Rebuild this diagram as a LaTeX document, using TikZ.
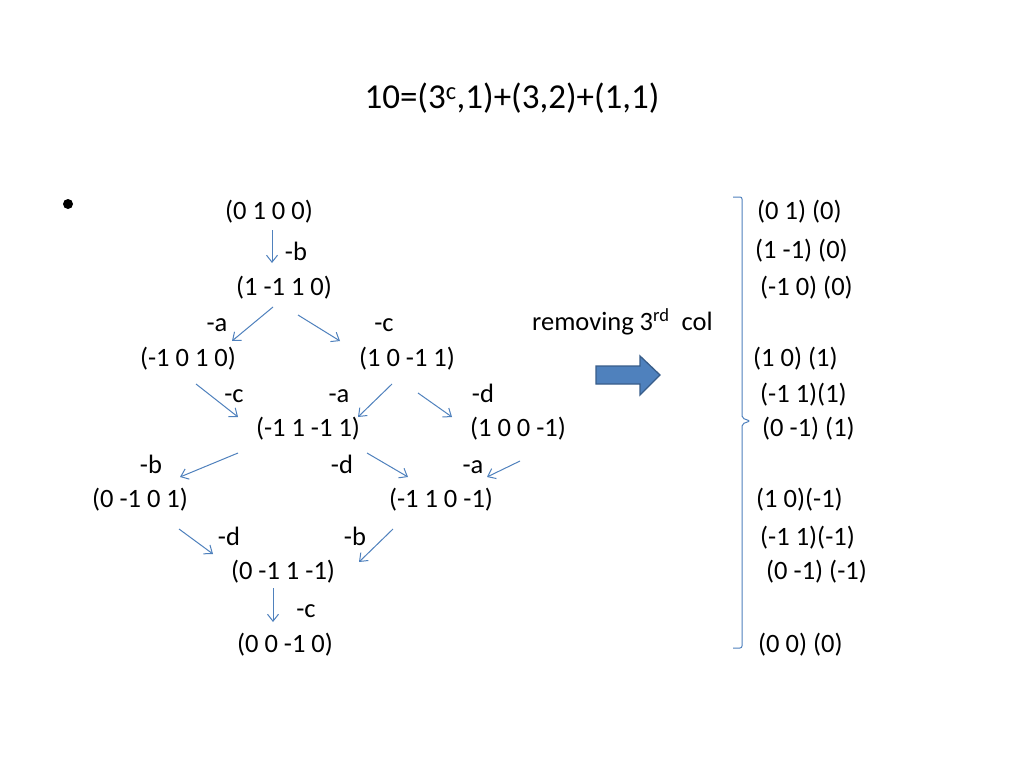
\documentclass[tikz,border=0pt]{standalone}
\usepackage{fontspec}
\setmainfont{Carlito}
\usetikzlibrary{arrows.meta}
\definecolor{accent}{HTML}{4F81BD}
\definecolor{accentdark}{HTML}{385D8A}
\begin{document}
\begin{tikzpicture}[x=1pt,y=-1pt,
  txt/.style={font=\fontsize{26.5}{30}\selectfont, inner sep=0pt},
  lbl/.style={txt, anchor=base},
  rcol/.style={txt, anchor=west},
  arr/.style={draw=accent, line width=1pt, -{Straight Barb[length=7pt,width=11pt]}},
  brace/.style={draw=accent, line width=1pt},
  blockarrow/.style={fill=accent, draw=accentdark, line width=1.3pt, line join=miter}
]
\fill[white] (0,0) rectangle (1024,768);
\useasboundingbox (0,0) rectangle (1024,768);

% title and bullet
\node[txt, font=\fontsize{35}{40}\selectfont] (title) at (512,98) {10=(3\textsuperscript{c},1)+(3,2)+(1,1)};
\node[circle, fill=black, inner sep=0pt, minimum size=10pt] (bul) at (68,204) {};

% lattice nodes
\node[txt] (n1)  at (269,212) {(0 1 0 0)};
\node[txt] (n2)  at (284,288) {(1 -1 1 0)};
\node[txt] (n3)  at (188,359) {(-1 0 1 0)};
\node[txt] (n4)  at (407,359) {(1 0 -1 1)};
\node[txt] (n5)  at (308,429) {(-1 1 -1 1)};
\node[txt] (n6)  at (518,429) {(1 0 0 -1)};
\node[txt] (n7)  at (140,500) {(0 -1 0 1)};
\node[txt] (n8)  at (441,500) {(-1 1 0 -1)};
\node[txt] (n9)  at (283,572) {(0 -1 1 -1)};
\node[txt] (n10) at (285,645) {(0 0 -1 0)};

% edge labels (placed on their baselines)
\node[lbl] (l1)  at (296,260) {-b};
\node[lbl] (l2)  at (217,331) {-a};
\node[lbl] (l3)  at (384,331) {-c};
\node[lbl] (l4)  at (234,402) {-c};
\node[lbl] (l5)  at (339,402) {-a};
\node[lbl] (l6)  at (483,402) {-d};
\node[lbl] (l7)  at (151,473) {-b};
\node[lbl] (l8)  at (342,473) {-d};
\node[lbl] (l9)  at (473,473) {-a};
\node[lbl] (l10) at (229,545) {-d};
\node[lbl] (l11) at (355,545) {-b};
\node[lbl] (l12) at (306,617) {-c};

% arrows
\foreach \i/\sx/\sy/\tx/\ty in {
  1/272/230/272/263,
  2/273/307/232/341,
  3/298/315/340/341,
  4/196/384/238/417,
  5/392/384/358/417,
  6/418/393/452/417,
  7/238/453/180/477,
  8/367/453/408/477,
  9/520/461/487/477,
  10/179/529/213/554,
  11/393/529/359/562,
  12/273/588/273/622}{
  \coordinate (s\i) at (\sx,\sy);
  \coordinate (t\i) at (\tx,\ty);
  \draw[arr] (s\i) -- (t\i);
}

% removing label and block arrow
\node[txt, anchor=west] (rm) at (532,322) {removing 3\textsuperscript{rd}\ \ col};
\draw[blockarrow] (596,366) -- (640,366) -- (640,356) -- (660,375) -- (640,395) -- (640,384) -- (596,384) -- cycle;

% brace
\draw[brace, rounded corners=2pt] (733,197) -| (742,418) -- (750,421) -- (742,424) |- (733,648);

% right column
\node[rcol] (r1)  at (757,212) {(0 1) (0)};
\node[rcol] (r2)  at (755,251) {(1 -1) (0)};
\node[rcol] (r3)  at (760,288) {(-1 0) (0)};
\node[rcol] (r4)  at (753,359) {(1 0) (1)};
\node[rcol] (r5)  at (760,395) {(-1 1)(1)};
\node[rcol] (r6)  at (762,429) {(0 -1) (1)};
\node[rcol] (r7)  at (756,500) {(1 0)(-1)};
\node[rcol] (r8)  at (760,538) {(-1 1)(-1)};
\node[rcol] (r9)  at (766,572) {(0 -1) (-1)};
\node[rcol] (r10) at (758,645) {(0 0) (0)};
\end{tikzpicture}
\end{document}
